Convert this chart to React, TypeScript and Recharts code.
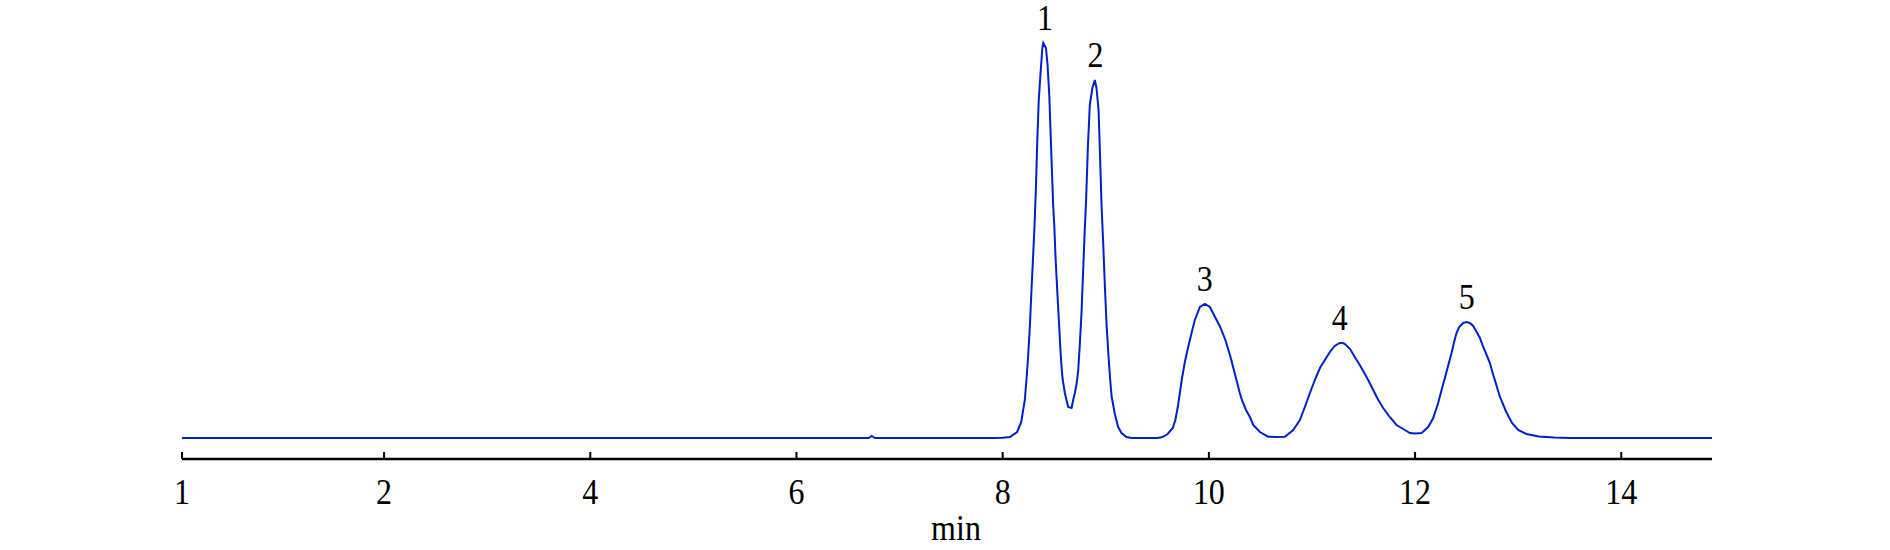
import { LineChart, Line, XAxis, YAxis, ReferenceDot } from 'recharts'

// chromatogram trace, [time (min), signal]
const baselineRun: [number, number][] = [
  [0.04, 0], [6.7, 0], [6.73, 2], [6.76, 0], [7.9, 0], [8.0, 0.3], [8.07, 1],
]

const peaks12: [number, number][] = [
  [8.14, 6], [8.18, 16], [8.215, 38], [8.229, 56], [8.246, 80], [8.264, 112],
  [8.278, 145], [8.292, 175], [8.308, 210], [8.323, 252], [8.336, 298], [8.35, 338],
  [8.368, 366], [8.385, 390], [8.394, 395], [8.42, 390], [8.436, 372], [8.452, 343],
  [8.47, 290], [8.49, 232], [8.5, 214], [8.513, 180], [8.532, 142], [8.548, 112],
  [8.562, 85], [8.577, 63], [8.586, 56], [8.603, 45], [8.635, 31], [8.668, 30],
  [8.684, 38], [8.7, 45], [8.717, 54], [8.733, 68], [8.749, 95], [8.765, 126],
  [8.78, 166], [8.795, 205], [8.81, 240], [8.826, 290], [8.845, 333], [8.87, 350],
  [8.894, 358], [8.91, 350], [8.93, 328], [8.945, 280], [8.959, 233], [8.975, 195],
  [8.992, 150], [9.008, 113], [9.024, 86], [9.04, 62], [9.056, 42], [9.088, 24],
  [9.12, 11], [9.153, 5], [9.2, 1], [9.25, 0],
]

const peaks345: [number, number][] = [
  [9.5, 0], [9.55, 1], [9.6, 4], [9.65, 10], [9.675, 18], [9.7, 32], [9.72, 46],
  [9.74, 60], [9.767, 76], [9.799, 91], [9.832, 105], [9.864, 118], [9.913, 131],
  [9.961, 134], [10.01, 131], [10.06, 121], [10.11, 111], [10.16, 98], [10.21, 81],
  [10.25, 65], [10.3, 45], [10.32, 38], [10.36, 28], [10.398, 21], [10.43, 13],
  [10.495, 6], [10.575, 1.3], [10.65, 1], [10.737, 1.3], [10.818, 8], [10.883, 18],
  [10.931, 31], [10.98, 45], [11.028, 58], [11.077, 70], [11.125, 78], [11.174, 86],
  [11.22, 92], [11.27, 95], [11.3, 95], [11.32, 94], [11.37, 89], [11.415, 81],
  [11.464, 73], [11.513, 64], [11.545, 58], [11.594, 48], [11.643, 38], [11.69, 30],
  [11.755, 21], [11.82, 13], [11.885, 9], [11.95, 5], [12.0, 4.5], [12.063, 5],
  [12.127, 11], [12.176, 20], [12.224, 35], [12.257, 48], [12.289, 60], [12.32, 72],
  [12.354, 85], [12.376, 95], [12.402, 105], [12.428, 111], [12.467, 115], [12.5, 116],
  [12.531, 115], [12.564, 112], [12.597, 106], [12.629, 100], [12.661, 91], [12.694, 83],
  [12.726, 75], [12.758, 63], [12.774, 58], [12.82, 42], [12.88, 27], [12.94, 15],
  [13.0, 8], [13.08, 4], [13.2, 1.5], [13.35, 0.5],
]

const tailRun: [number, number][] = [[13.5, 0], [14.88, 0]]

const peakTimes = [8.41, 8.9, 9.96, 11.27, 12.5]
const peakHeights = [395, 358, 134, 95, 116]
const peakNames = ['1', '2', '3', '4', '5']

const tickValues = [0.04, 2, 4, 6, 8, 10, 12, 14]
const tickLabels = ['1', '2', '4', '6', '8', '10', '12', '14']

const data = [...baselineRun, ...peaks12, ...peaks345, ...tailRun].map(([t, v]) => ({ t, v }))

const serif = '"Liberation Serif", "Times New Roman", serif'

// the original glyphs look a touch taller than plain Times
const TallText = ({ x, y, children }: { x: number; y: number; children: any }) => (
  <text
    transform={`translate(${x},${y}) scale(1,1.1)`}
    textAnchor="middle"
    fontSize={32}
    fontFamily={serif}
    fill="#000"
  >
    {children}
  </text>
)

const XTick = (props: any) => {
  const { x, y, index } = props
  return (
    <g>
      <line x1={x} x2={x} y1={y - 7} y2={y} stroke="#000" strokeWidth={2} />
      <TallText x={x} y={y + 45}>{tickLabels[index]}</TallText>
    </g>
  )
}

const App = () => {
  return (
    <div style={{ position: 'absolute', left: 0, top: 0, background: '#fff' }}>
      <LineChart width={1890} height={550} data={data} margin={{ top: 0, right: 178, bottom: 0, left: 182 }}>
        <XAxis
          type="number"
          dataKey="t"
          domain={[0.04, 14.88]}
          ticks={tickValues}
          interval={0}
          height={91}
          tickSize={0}
          tickMargin={0}
          tickLine={false}
          tick={<XTick />}
          axisLine={{ stroke: '#000', strokeWidth: 2.5 }}
          label={{
            content: (p: any) => (
              <TallText x={p.viewBox.x + p.viewBox.width / 2 + 9} y={p.viewBox.y + 81}>
                min
              </TallText>
            ),
          }}
        />
        <YAxis hide domain={[-21, 438]} />
        <Line
          type="linear"
          dataKey="v"
          stroke="#0020c8"
          strokeWidth={2}
          dot={false}
          activeDot={false}
          isAnimationActive={false}
        />
        {peakTimes.map((t, i) => (
          <ReferenceDot
            key={peakNames[i]}
            x={t}
            y={peakHeights[i]}
            r={0}
            fill="none"
            stroke="none"
            label={{
              content: (p: any) => (
                <TallText x={p.viewBox.x + p.viewBox.width / 2} y={p.viewBox.y - 13}>
                  {peakNames[i]}
                </TallText>
              ),
            }}
          />
        ))}
      </LineChart>
    </div>
  )
}

export default App
